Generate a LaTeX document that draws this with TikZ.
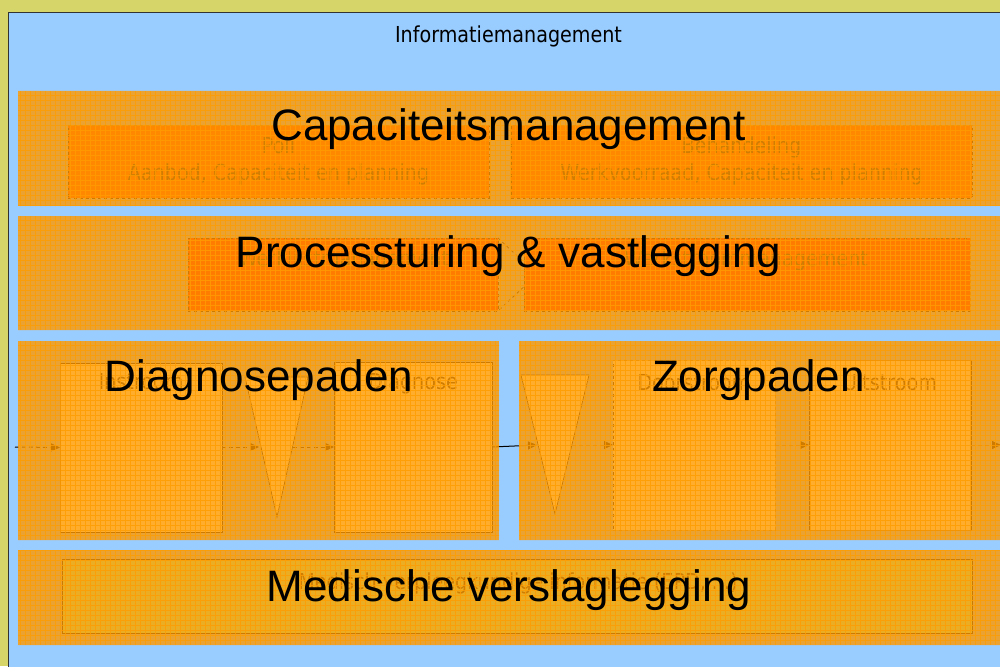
\documentclass[tikz,border=0pt]{standalone}
\usepackage{fontspec}
\usetikzlibrary{arrows.meta}
\newfontfamily\bigsans{Liberation Sans}
\newfontfamily\tahsans[FakeStretch=0.87]{DejaVu Sans}
\definecolor{frameyellow}{HTML}{D6D56A}
\definecolor{skyblue}{HTML}{99CCFF}
\definecolor{veil}{HTML}{FF9900}
\definecolor{veilgrid}{HTML}{FF9C00}
\definecolor{capfill}{HTML}{FF4800}
\definecolor{procfill}{HTML}{FF0A00}
\definecolor{pathfill}{HTML}{FFFFE0}
\definecolor{recfill}{HTML}{99FFB0}
\definecolor{inktext}{HTML}{101010}
\begin{document}
\begin{tikzpicture}[x=1pt,y=-1pt,
  every node/.style={inner sep=0pt, outer sep=0pt},
  frame/.style={rectangle, fill=skyblue, draw=black!80, line width=1pt},
  band/.style={rectangle, fill=veil, fill opacity=0.8, draw=none},
  capbox/.style={rectangle, fill=capfill, draw=black, dashed, line width=0.8pt},
  procbox/.style={rectangle, fill=procfill, draw=black, dashed, line width=0.8pt},
  stepbox/.style={rectangle, fill=pathfill, draw=black, line width=0.7pt},
  funnel/.style={fill=pathfill, draw=black, line width=0.7pt},
  recbox/.style={rectangle, fill=recfill, draw=black, line width=1pt},
  faint/.style={font=\tahsans\fontsize{22}{27}\selectfont, text=inktext, align=center, anchor=base},
  title/.style={font=\tahsans\fontsize{22}{27}\selectfont, text=black, anchor=base},
  heading/.style={font=\bigsans\fontsize{44}{50}\selectfont, text=black, anchor=base},
  flow/.style={draw=black, line width=1pt, dash pattern=on 4pt off 3pt,
               -{Triangle[length=9pt,width=8pt]}},
  solidflow/.style={draw=black, line width=1pt, -{Triangle[length=9pt,width=8pt]}}]

\useasboundingbox (0,0) rectangle (1000,666);
\clip (0,0) rectangle (1000,666);

% page background and the information-management frame
\fill[frameyellow] (0,0) rectangle (1000,666);
\node[frame, minimum width=1004pt, minimum height=667pt, anchor=north west] (info) at (8,13) {};
\node[title] (infotitle) at (508.5,42.5) {Informatiemanagement};

% capacity management boxes
\node[capbox, minimum width=421pt, minimum height=73pt] (poli) at (278.5,161.5) {};
\node[capbox, minimum width=461pt, minimum height=73pt] (beh) at (741.5,161.5) {};
\node[faint] (polit) at (278.5,180) {Poli\\Aanbod, Capaciteit en planning};
\node[faint] (beht) at (741.5,180) {Behandeling\\Werkvoorraad, Capaciteit en planning};

% process control boxes
\draw[black, dashed, line width=0.8pt] (498,238) -- (537,274.5) -- (498,311);
\node[procbox, minimum width=310pt, minimum height=73pt] (wl) at (343,274.5) {};
\node[procbox, minimum width=446pt, minimum height=73pt] (ws) at (747,274.5) {};
\node[faint] (wlt) at (344,266) {Werklijstmanagement};
\node[faint] (wst) at (746,266) {Werkstroommanagement};

% diagnosis and care path steps
\node[stepbox, minimum width=162pt, minimum height=169pt] (instroom) at (141,447.5) {};
\node[stepbox, minimum width=158pt, minimum height=170pt] (diagnose) at (413,447) {};
\node[stepbox, dashed, minimum width=162pt, minimum height=170pt] (door) at (694,445) {};
\node[stepbox, minimum width=162pt, minimum height=170pt] (uit) at (890,445) {};
\coordinate (f1a) at (245,377);
\coordinate (f1b) at (308,377);
\coordinate (f1c) at (277,517);
\coordinate (f2a) at (521,375);
\coordinate (f2b) at (589,375);
\coordinate (f2c) at (555,514);
\draw[funnel] (f1a) -- (f1b) -- (f1c) -- cycle;
\draw[funnel] (f2a) -- (f2b) -- (f2c) -- cycle;
\node[faint] (instroomt) at (141,389) {Instroom};
\node[faint] (diagnoset) at (413,389) {Diagnose};
\node[faint] (doort) at (694,390) {Doorstroom};
\node[faint] (uitt) at (890,390) {Uitstroom};

% flow through the paths
\coordinate (start) at (15,447);
\coordinate (f1in) at (259,447);
\coordinate (f1out) at (293,447);
\coordinate (f2in) at (537,445);
\coordinate (f2out) at (572,445);
\coordinate (finish) at (1001,445);
\draw[flow] (start) -- (instroom.west);
\draw[flow] (instroom.east |- start) -- (f1in);
\draw[flow] (f1out) -- (diagnose.west);
\draw[solidflow] (diagnose.east) -- (f2in);
\draw[flow] (f2out) -- (door.west);
\draw[flow] (door.east) -- (uit.west);
\draw[flow] (uit.east) -- (finish);

% medical records box
\node[recbox, minimum width=910pt, minimum height=74pt] (rec) at (517.5,596) {};
\node[faint] (rect) at (518,589) {Medisch-verpleegkundige informatie (EPD, ...)};

% translucent orange layers
\node[band, minimum width=988pt, minimum height=115pt] (capband) at (512,148.5) {};
\node[band, minimum width=988pt, minimum height=114pt] (procband) at (512,273) {};
\node[band, minimum width=481pt, minimum height=199pt] (diagband) at (258.5,440.5) {};
\node[band, minimum width=487pt, minimum height=199pt] (zorgband) at (762.5,440.5) {};
\node[band, minimum width=988pt, minimum height=95pt] (medband) at (512,597.5) {};

% woven texture of the layers
\begin{scope}
  \clip (capband.north west) rectangle (capband.south east)
        (procband.north west) rectangle (procband.south east)
        (diagband.north west) rectangle (diagband.south east)
        (zorgband.north west) rectangle (zorgband.south east)
        (medband.north west) rectangle (medband.south east);
  \draw[veilgrid, opacity=0.8, line width=0.8pt, step=5pt] (15,650) grid (1010,88);
\end{scope}

% layer headings
\node[heading] (caph) at (508.5,140) {Capaciteitsmanagement};
\node[heading] (proch) at (508.5,267) {Processturing \& vastlegging};
\node[heading] (diagh) at (259,391) {Diagnosepaden};
\node[heading] (zorgh) at (758.5,391) {Zorgpaden};
\node[heading] (medh) at (509,601) {Medische verslaglegging};
\end{tikzpicture}
\end{document}
